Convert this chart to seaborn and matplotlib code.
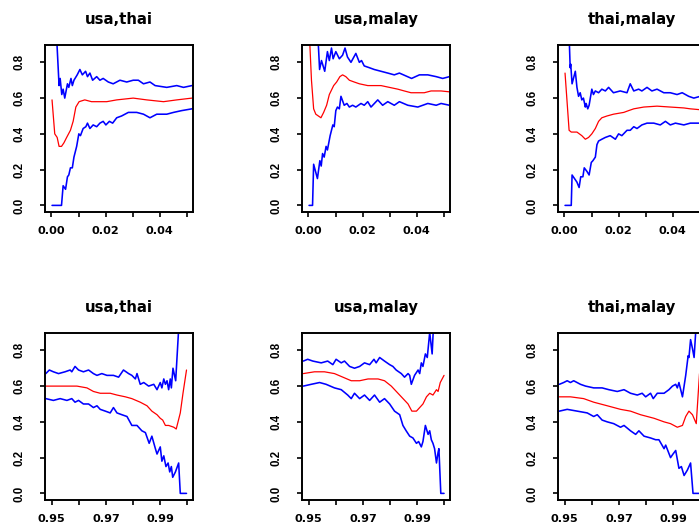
import matplotlib
matplotlib.use("Agg")
import matplotlib.pyplot as plt
import seaborn as sns

# ---- data ----
titles = ["usa,thai", "usa,malay", "thai,malay", "usa,thai", "usa,malay", "thai,malay"]

y_ticks = [0.0, 0.2, 0.4, 0.6, 0.8]
y_labels = ["0.0", "0.2", "0.4", "0.6", "0.8"]
top_ticks = [0.00, 0.01, 0.02, 0.03, 0.04, 0.05]
top_labels = ["0.00", "", "0.02", "", "0.04", ""]
bot_ticks = [0.95, 0.96, 0.97, 0.98, 0.99, 1.00]
bot_labels = ["0.95", "", "0.97", "", "0.99", ""]

# panel 1 : usa,thai (lower tail)
p1_red_x = [0.0002, 0.0012, 0.0021, 0.0028, 0.0037, 0.0046, 0.0056, 0.0070, 0.0080, 0.0090,
            0.0102, 0.0123, 0.0148, 0.0204, 0.0241, 0.0302, 0.0352, 0.0414, 0.0463, 0.0519]
p1_red_y = [0.59, 0.40, 0.38, 0.33, 0.33, 0.35, 0.38, 0.42, 0.47, 0.55,
            0.58, 0.59, 0.58, 0.58, 0.59, 0.60, 0.59, 0.58, 0.59, 0.60]
p1_hi_x = [0.0017, 0.0028, 0.0032, 0.0038, 0.0043, 0.0049, 0.0059, 0.0064, 0.0072, 0.0077,
           0.0083, 0.0095, 0.0105, 0.0114, 0.0126, 0.0133, 0.0142, 0.0152, 0.0167, 0.0179,
           0.0191, 0.0210, 0.0228, 0.0253, 0.0278, 0.0302, 0.0321, 0.0340, 0.0364, 0.0383,
           0.0426, 0.0463, 0.0488, 0.0519]
p1_hi_y = [1.00, 0.67, 0.71, 0.62, 0.65, 0.60, 0.68, 0.66, 0.71, 0.67,
           0.70, 0.73, 0.76, 0.73, 0.75, 0.72, 0.74, 0.70, 0.72, 0.70,
           0.71, 0.69, 0.68, 0.70, 0.69, 0.70, 0.70, 0.68, 0.69, 0.67,
           0.66, 0.67, 0.66, 0.67]
p1_lo_x = [0.0002, 0.0037, 0.0043, 0.0052, 0.0059, 0.0064, 0.0070, 0.0077, 0.0083, 0.0093,
           0.0101, 0.0107, 0.0117, 0.0127, 0.0133, 0.0142, 0.0154, 0.0167, 0.0179, 0.0191,
           0.0201, 0.0214, 0.0226, 0.0241, 0.0259, 0.0284, 0.0315, 0.0340, 0.0364, 0.0389,
           0.0426, 0.0451, 0.0481, 0.0519]
p1_lo_y = [0.00, 0.00, 0.11, 0.09, 0.16, 0.17, 0.21, 0.21, 0.27, 0.33,
           0.40, 0.39, 0.43, 0.44, 0.46, 0.43, 0.45, 0.44, 0.46, 0.47,
           0.45, 0.47, 0.46, 0.49, 0.50, 0.52, 0.52, 0.51, 0.49, 0.51,
           0.51, 0.52, 0.53, 0.54]

# panel 2 : usa,malay (lower tail)
p2_red_x = [0.0002, 0.0011, 0.0019, 0.0027, 0.0046, 0.0056, 0.0067, 0.0077, 0.0093, 0.0104,
            0.0116, 0.0126, 0.0138, 0.0151, 0.0169, 0.0188, 0.0219, 0.0243, 0.0268, 0.0299,
            0.0330, 0.0354, 0.0379, 0.0428, 0.0453, 0.0490, 0.0521]
p2_red_y = [1.00, 0.70, 0.54, 0.51, 0.49, 0.52, 0.56, 0.62, 0.67, 0.69,
            0.72, 0.73, 0.72, 0.70, 0.69, 0.68, 0.67, 0.67, 0.67, 0.66,
            0.65, 0.64, 0.63, 0.63, 0.64, 0.64, 0.635]
p2_hi_x = [0.0033, 0.0041, 0.0048, 0.0060, 0.0070, 0.0077, 0.0085, 0.0091, 0.0101, 0.0114,
           0.0126, 0.0135, 0.0144, 0.0157, 0.0175, 0.0188, 0.0196, 0.0206, 0.0225, 0.0243,
           0.0268, 0.0293, 0.0317, 0.0336, 0.0381, 0.0410, 0.0441, 0.0472, 0.0496, 0.0521]
p2_hi_y = [1.00, 0.76, 0.81, 0.75, 0.86, 0.81, 0.88, 0.82, 0.86, 0.82,
           0.84, 0.88, 0.83, 0.80, 0.85, 0.80, 0.81, 0.78, 0.77, 0.76,
           0.75, 0.74, 0.73, 0.74, 0.71, 0.73, 0.73, 0.72, 0.71, 0.72]
p2_lo_x = [0.0002, 0.0015, 0.0019, 0.0033, 0.0042, 0.0047, 0.0052, 0.0058, 0.0065, 0.0070,
           0.0080, 0.0090, 0.0095, 0.0101, 0.0107, 0.0114, 0.0120, 0.0132, 0.0142, 0.0151,
           0.0163, 0.0175, 0.0194, 0.0206, 0.0219, 0.0231, 0.0256, 0.0274, 0.0293, 0.0317,
           0.0336, 0.0367, 0.0404, 0.0441, 0.0472, 0.0490, 0.0521]
p2_lo_y = [0.00, 0.00, 0.23, 0.15, 0.25, 0.22, 0.29, 0.27, 0.33, 0.31,
           0.39, 0.45, 0.44, 0.53, 0.55, 0.54, 0.61, 0.56, 0.57, 0.55,
           0.56, 0.55, 0.57, 0.56, 0.58, 0.55, 0.59, 0.56, 0.58, 0.56,
           0.58, 0.56, 0.55, 0.57, 0.56, 0.57, 0.56]

# panel 3 : thai,malay (lower tail)
p3_red_x = [0.0002, 0.0017, 0.0025, 0.0046, 0.0064, 0.0077, 0.0089, 0.0101, 0.0114, 0.0126,
            0.0138, 0.0157, 0.0181, 0.0219, 0.0237, 0.0256, 0.0293, 0.0342, 0.0391, 0.0441,
            0.0465, 0.0502, 0.0521]
p3_red_y = [0.74, 0.42, 0.41, 0.41, 0.39, 0.37, 0.38, 0.40, 0.43, 0.47,
            0.49, 0.50, 0.51, 0.52, 0.53, 0.54, 0.55, 0.555, 0.55, 0.545,
            0.54, 0.535, 0.535]
p3_hi_x = [0.0016, 0.0021, 0.0023, 0.0028, 0.0040, 0.0046, 0.0052, 0.0058, 0.0064, 0.0070,
           0.0077, 0.0080, 0.0086, 0.0091, 0.0101, 0.0107, 0.0114, 0.0126, 0.0138, 0.0151,
           0.0163, 0.0181, 0.0206, 0.0231, 0.0243, 0.0256, 0.0274, 0.0286, 0.0305, 0.0323,
           0.0342, 0.0367, 0.0391, 0.0416, 0.0435, 0.0459, 0.0478, 0.0502, 0.0521]
p3_hi_y = [1.00, 0.77, 0.79, 0.68, 0.75, 0.66, 0.61, 0.63, 0.59, 0.60,
           0.55, 0.57, 0.54, 0.56, 0.65, 0.62, 0.64, 0.63, 0.65, 0.64,
           0.66, 0.63, 0.64, 0.63, 0.68, 0.64, 0.65, 0.64, 0.66, 0.64,
           0.65, 0.63, 0.63, 0.62, 0.63, 0.61, 0.60, 0.61, 0.62]
p3_lo_x = [0.0002, 0.0025, 0.0028, 0.0046, 0.0054, 0.0060, 0.0068, 0.0073, 0.0083, 0.0091,
           0.0099, 0.0105, 0.0114, 0.0120, 0.0126, 0.0138, 0.0151, 0.0169, 0.0188, 0.0200,
           0.0212, 0.0231, 0.0243, 0.0256, 0.0268, 0.0286, 0.0305, 0.0330, 0.0354, 0.0373,
           0.0391, 0.0410, 0.0441, 0.0465, 0.0502, 0.0521]
p3_lo_y = [0.00, 0.00, 0.17, 0.13, 0.10, 0.16, 0.16, 0.21, 0.19, 0.17,
           0.24, 0.25, 0.27, 0.34, 0.36, 0.37, 0.38, 0.39, 0.37, 0.40,
           0.39, 0.42, 0.42, 0.44, 0.43, 0.45, 0.46, 0.46, 0.45, 0.47,
           0.45, 0.46, 0.45, 0.46, 0.46, 0.47]

# panel 4 : usa,thai (upper tail)
p4_red_x = [0.9478, 0.9531, 0.9593, 0.9630, 0.9654, 0.9679, 0.9716, 0.9741, 0.9772, 0.9796,
            0.9827, 0.9852, 0.9870, 0.9889, 0.9901, 0.9910, 0.9920, 0.9932, 0.9951, 0.9960,
            0.9975, 0.9985, 0.9998]
p4_red_y = [0.60, 0.60, 0.60, 0.59, 0.57, 0.56, 0.56, 0.55, 0.54, 0.53,
            0.51, 0.49, 0.46, 0.44, 0.42, 0.41, 0.38, 0.38, 0.37, 0.36,
            0.45, 0.56, 0.69]
p4_hi_x = [0.9478, 0.9491, 0.9506, 0.9525, 0.9549, 0.9568, 0.9574, 0.9586, 0.9599, 0.9617,
           0.9636, 0.9654, 0.9667, 0.9685, 0.9704, 0.9728, 0.9747, 0.9765, 0.9784, 0.9796,
           0.9809, 0.9815, 0.9827, 0.9840, 0.9858, 0.9877, 0.9889, 0.9901, 0.9907, 0.9914,
           0.9920, 0.9926, 0.9932, 0.9938, 0.9942, 0.9948, 0.9958, 0.9972]
p4_hi_y = [0.67, 0.69, 0.68, 0.67, 0.68, 0.69, 0.68, 0.71, 0.69, 0.68,
           0.69, 0.67, 0.66, 0.67, 0.66, 0.66, 0.65, 0.69, 0.67, 0.66,
           0.64, 0.67, 0.61, 0.62, 0.60, 0.61, 0.58, 0.62, 0.59, 0.64,
           0.61, 0.63, 0.58, 0.64, 0.59, 0.70, 0.63, 1.00]
p4_lo_x = [0.9478, 0.9506, 0.9531, 0.9556, 0.9574, 0.9586, 0.9599, 0.9617, 0.9636, 0.9654,
           0.9667, 0.9679, 0.9698, 0.9716, 0.9728, 0.9741, 0.9759, 0.9778, 0.9796, 0.9815,
           0.9833, 0.9846, 0.9860, 0.9870, 0.9883, 0.9889, 0.9901, 0.9907, 0.9914, 0.9922,
           0.9930, 0.9936, 0.9942, 0.9947, 0.9957, 0.9969, 0.9975, 0.9998]
p4_lo_y = [0.53, 0.52, 0.53, 0.52, 0.53, 0.51, 0.52, 0.50, 0.50, 0.48,
           0.49, 0.47, 0.46, 0.45, 0.48, 0.45, 0.44, 0.43, 0.38, 0.38,
           0.35, 0.34, 0.28, 0.32, 0.25, 0.22, 0.26, 0.18, 0.21, 0.15,
           0.17, 0.12, 0.15, 0.09, 0.12, 0.17, 0.00, 0.00]

# panel 5 : usa,malay (upper tail)
p5_red_x = [0.9480, 0.9521, 0.9558, 0.9595, 0.9626, 0.9657, 0.9688, 0.9719, 0.9756, 0.9780,
            0.9805, 0.9836, 0.9867, 0.9881, 0.9898, 0.9910, 0.9922, 0.9935, 0.9947, 0.9959,
            0.9972, 0.9978, 0.9986, 1.0000]
p5_red_y = [0.67, 0.68, 0.68, 0.67, 0.65, 0.63, 0.63, 0.64, 0.64, 0.63,
            0.60, 0.55, 0.50, 0.46, 0.46, 0.48, 0.50, 0.54, 0.56, 0.55,
            0.58, 0.57, 0.62, 0.66]
p5_hi_x = [0.9480, 0.9496, 0.9515, 0.9546, 0.9570, 0.9589, 0.9601, 0.9620, 0.9632, 0.9651,
           0.9669, 0.9688, 0.9706, 0.9725, 0.9741, 0.9749, 0.9762, 0.9780, 0.9799, 0.9811,
           0.9823, 0.9842, 0.9854, 0.9867, 0.9873, 0.9879, 0.9891, 0.9904, 0.9910, 0.9916,
           0.9922, 0.9931, 0.9938, 0.9947, 0.9956, 0.9963]
p5_hi_y = [0.74, 0.75, 0.74, 0.73, 0.74, 0.72, 0.75, 0.73, 0.74, 0.71,
           0.70, 0.71, 0.73, 0.72, 0.75, 0.73, 0.76, 0.74, 0.72, 0.71,
           0.69, 0.67, 0.65, 0.67, 0.66, 0.61, 0.66, 0.69, 0.67, 0.73,
           0.71, 0.78, 0.76, 0.90, 0.78, 1.00]
p5_lo_x = [0.9480, 0.9509, 0.9540, 0.9564, 0.9595, 0.9620, 0.9644, 0.9657, 0.9669, 0.9688,
           0.9706, 0.9725, 0.9743, 0.9762, 0.9780, 0.9799, 0.9817, 0.9836, 0.9848, 0.9860,
           0.9873, 0.9885, 0.9898, 0.9906, 0.9916, 0.9922, 0.9931, 0.9941, 0.9947, 0.9953,
           0.9959, 0.9965, 0.9972, 0.9978, 0.9981, 0.9988, 1.0000]
p5_lo_y = [0.60, 0.61, 0.62, 0.61, 0.59, 0.58, 0.55, 0.53, 0.56, 0.53,
           0.55, 0.52, 0.55, 0.51, 0.53, 0.50, 0.46, 0.44, 0.38, 0.35,
           0.32, 0.31, 0.28, 0.29, 0.26, 0.29, 0.38, 0.33, 0.35, 0.30,
           0.28, 0.25, 0.17, 0.23, 0.25, 0.00, 0.00]

# panel 6 : thai,malay (upper tail)
p6_red_x = [0.9480, 0.9521, 0.9570, 0.9607, 0.9657, 0.9706, 0.9743, 0.9780, 0.9830, 0.9867,
            0.9891, 0.9916, 0.9935, 0.9947, 0.9959, 0.9972, 0.9986, 0.9998]
p6_red_y = [0.54, 0.54, 0.53, 0.51, 0.49, 0.47, 0.46, 0.44, 0.42, 0.40,
            0.39, 0.37, 0.38, 0.43, 0.46, 0.44, 0.39, 0.67]
p6_hi_x = [0.9480, 0.9496, 0.9509, 0.9521, 0.9533, 0.9558, 0.9577, 0.9607, 0.9638, 0.9663,
           0.9694, 0.9719, 0.9743, 0.9768, 0.9786, 0.9799, 0.9817, 0.9827, 0.9842, 0.9867,
           0.9885, 0.9898, 0.9910, 0.9916, 0.9922, 0.9935, 0.9947, 0.9956, 0.9959, 0.9965,
           0.9972, 0.9978, 0.9988]
p6_hi_y = [0.61, 0.62, 0.63, 0.62, 0.63, 0.61, 0.60, 0.59, 0.59, 0.58,
           0.57, 0.58, 0.56, 0.55, 0.56, 0.54, 0.56, 0.53, 0.56, 0.56,
           0.58, 0.60, 0.61, 0.59, 0.62, 0.54, 0.66, 0.77, 0.76, 0.86,
           0.81, 0.76, 1.00]
p6_lo_x = [0.9480, 0.9509, 0.9546, 0.9583, 0.9607, 0.9620, 0.9638, 0.9657, 0.9681, 0.9706,
           0.9719, 0.9743, 0.9762, 0.9774, 0.9793, 0.9817, 0.9836, 0.9848, 0.9867, 0.9873,
           0.9891, 0.9900, 0.9910, 0.9922, 0.9931, 0.9941, 0.9953, 0.9965, 0.9974, 0.9998]
p6_lo_y = [0.46, 0.47, 0.46, 0.45, 0.43, 0.44, 0.41, 0.40, 0.39, 0.37,
           0.38, 0.35, 0.33, 0.35, 0.32, 0.31, 0.30, 0.30, 0.25, 0.27,
           0.20, 0.22, 0.24, 0.14, 0.15, 0.10, 0.13, 0.17, 0.00, 0.00]

panels = [
    (p1_red_x, p1_red_y, p1_hi_x, p1_hi_y, p1_lo_x, p1_lo_y),
    (p2_red_x, p2_red_y, p2_hi_x, p2_hi_y, p2_lo_x, p2_lo_y),
    (p3_red_x, p3_red_y, p3_hi_x, p3_hi_y, p3_lo_x, p3_lo_y),
    (p4_red_x, p4_red_y, p4_hi_x, p4_hi_y, p4_lo_x, p4_lo_y),
    (p5_red_x, p5_red_y, p5_hi_x, p5_hi_y, p5_lo_x, p5_lo_y),
    (p6_red_x, p6_red_y, p6_hi_x, p6_hi_y, p6_lo_x, p6_lo_y),
]

# ---- style ----
sns.set_style("ticks")
plt.rcParams['font.family'] = ['DejaVu Sans']
plt.rcParams['text.color'] = 'black'

W, H = 699, 525
fig = plt.figure(figsize=(W / 100, H / 100), dpi=100)

# box geometry in pixels (the right column runs off the page, like the original)
col_left = [45, 302, 558]
row_top = [45, 333]
box_w, box_h = 148, 167

for i, (rx, ry, hx, hy, lx, ly) in enumerate(panels):
    r, c = divmod(i, 3)
    ax = fig.add_axes([col_left[c] / W, 1 - (row_top[r] + box_h) / H, box_w / W, box_h / H])

    # confidence band (blue) and estimate (red)
    sns.lineplot(x=hx, y=hy, ax=ax, color="#0000FF", lw=1.15, estimator=None)
    sns.lineplot(x=lx, y=ly, ax=ax, color="#0000FF", lw=1.15, estimator=None)
    sns.lineplot(x=rx, y=ry, ax=ax, color="#FF0000", lw=0.9, estimator=None)

    ax.set_ylim(-0.037, 0.897)
    ax.set_yticks(y_ticks)
    ax.set_yticklabels(y_labels, rotation=90, va="center",
                       fontfamily="Liberation Sans", fontweight="bold", fontsize=8.3)
    if r == 0:
        ax.set_xlim(-0.0024, 0.0523)
        ax.set_xticks(top_ticks)
        ax.set_xticklabels(top_labels, fontweight="bold", fontsize=8.1)
    else:
        ax.set_xlim(0.9475, 1.0022)
        ax.set_xticks(bot_ticks)
        ax.set_xticklabels(bot_labels, fontweight="bold", fontsize=8.1)

    ax.tick_params(axis="both", direction="out", length=3.8, width=1.2, colors="black")
    ax.tick_params(axis="x", pad=6.5)
    ax.tick_params(axis="y", pad=10)
    for sp in ax.spines.values():
        sp.set_linewidth(1.4)
        sp.set_color("black")

    ax.set_xlabel("")
    ax.set_ylabel("")
    ax.set_title(titles[i], fontweight="bold", fontsize=10.7, pad=15, color="black")

fig.savefig("out.png", dpi=100)
